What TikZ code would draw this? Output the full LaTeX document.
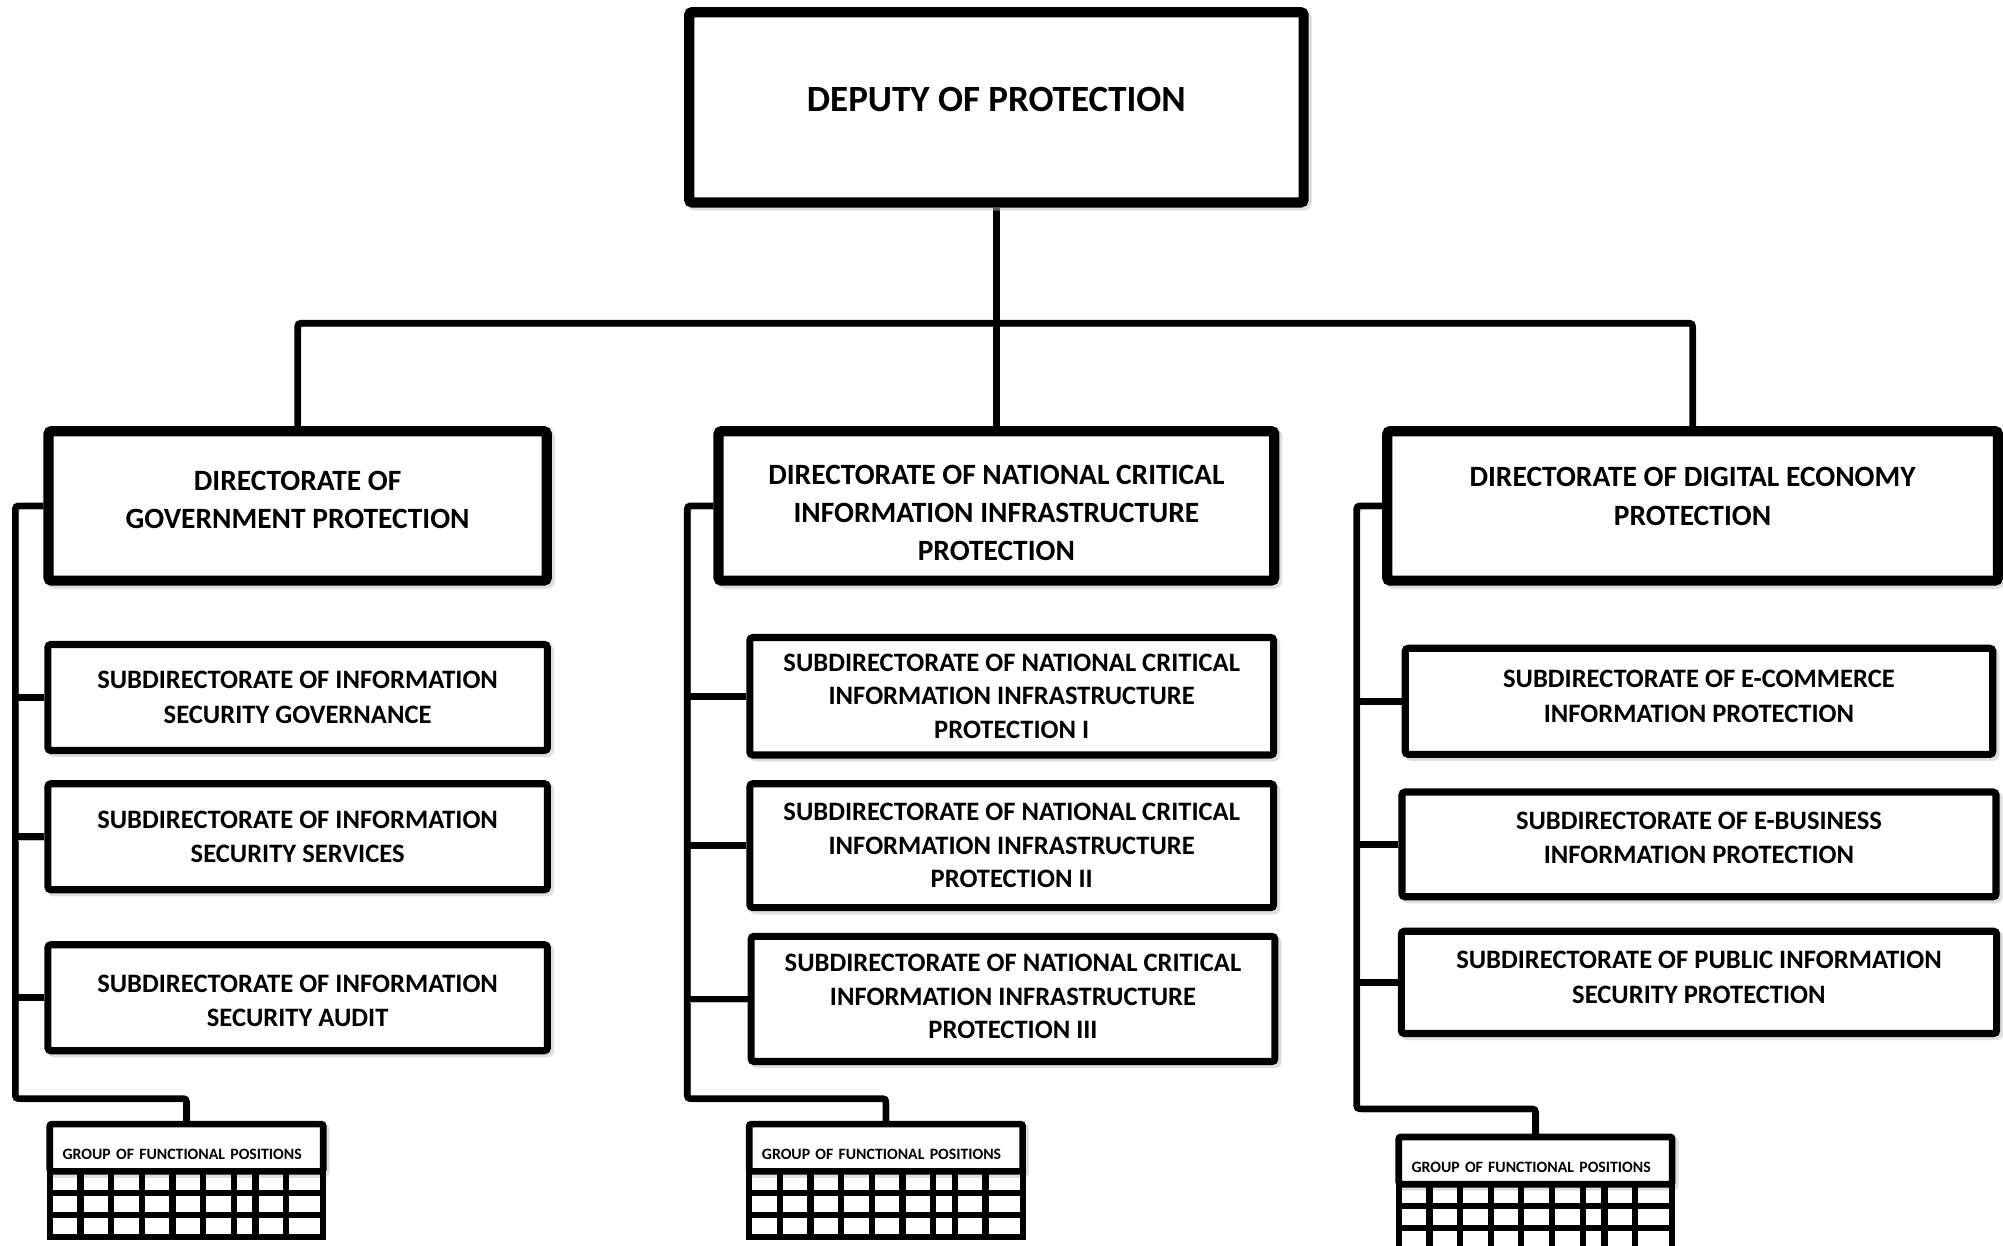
\documentclass[tikz,border=0pt]{standalone}
\usepackage{fontspec}
\setmainfont{Carlito}
\usetikzlibrary{shadows,backgrounds}

\begin{document}
\begin{tikzpicture}[x=0.125mm,y=-0.125mm,
  boxshadow/.style={drop shadow={shadow xshift=0.3mm,shadow yshift=-0.3mm,fill=black!25,draw=black!25}},
  headbox/.style={draw,fill=white,line width=1mm,rounded corners=0.3mm,align=center,boxshadow,font=\bfseries\fontsize{8.2}{10.6}\selectfont},
  subbox/.style={headbox,line width=0.7mm,font=\bfseries\fontsize{7.4}{9.6}\selectfont},
  grpbox/.style={draw,fill=white,line width=0.65mm,outer sep=0pt,rounded corners=0.2mm,boxshadow,font=\bfseries\fontsize{4.4}{5}\selectfont,text width=24.25mm,inner xsep=1.25mm,align=left,minimum height=4.625mm,text height=6.4pt},
  wire/.style={line width=0.65mm,rounded corners=0.3mm,preaction={draw=black!25,transform canvas={shift={(0.3mm,-0.3mm)}}}},
  cell/.style={line width=0.6mm}]
\useasboundingbox (0,0) rectangle (1568,975); % page

% deputy
\node[headbox,minimum width=60.125mm,minimum height=18.625mm,font=\bfseries\fontsize{10.3}{12}\selectfont,text depth=4.3pt] (deputy) at (780,84) {DEPUTY OF PROTECTION};
\coordinate (bus) at (780,253); % bus

% directorates
\node[headbox,minimum width=48.75mm,minimum height=14.625mm,text depth=3.6pt] (dirGov) at (233,396) {DIRECTORATE OF\\GOVERNMENT PROTECTION};
\node[headbox,minimum width=54.375mm,minimum height=14.625mm,text height=30.5pt,text depth=0pt] (dirCrit) at (780,396) {DIRECTORATE OF NATIONAL CRITICAL\\INFORMATION INFRASTRUCTURE\\PROTECTION};
\node[headbox,minimum width=59.75mm,minimum height=14.625mm,text depth=5.3pt] (dirEco) at (1325,396) {DIRECTORATE OF DIGITAL ECONOMY\\PROTECTION};

% subdirectorates, government
\node[subbox,minimum width=48.875mm,minimum height=10.375mm] (subGov1) at (233,546) {SUBDIRECTORATE OF INFORMATION\\SECURITY GOVERNANCE};
\node[subbox,minimum width=48.875mm,minimum height=10.375mm] (subGov2) at (233,655) {SUBDIRECTORATE OF INFORMATION\\SECURITY SERVICES};
\node[subbox,minimum width=48.875mm,minimum height=10.375mm,text height=16.2pt,text depth=0pt] (subGov3) at (233,781) {SUBDIRECTORATE OF INFORMATION\\SECURITY AUDIT};

% subdirectorates, critical infrastructure
\node[subbox,minimum width=51.25mm,minimum height=11.5mm,font=\bfseries\fontsize{7.4}{9.3}\selectfont] (subCrit1) at (792,545) {SUBDIRECTORATE OF NATIONAL CRITICAL\\INFORMATION INFRASTRUCTURE\\PROTECTION I};
\node[subbox,minimum width=51.25mm,minimum height=12.125mm,font=\bfseries\fontsize{7.4}{9.3}\selectfont] (subCrit2) at (792,662) {SUBDIRECTORATE OF NATIONAL CRITICAL\\INFORMATION INFRASTRUCTURE\\PROTECTION II};
\node[subbox,minimum width=51.25mm,minimum height=12.25mm,font=\bfseries\fontsize{7.4}{9.3}\selectfont,text depth=1.4pt] (subCrit3) at (793,782) {SUBDIRECTORATE OF NATIONAL CRITICAL\\INFORMATION INFRASTRUCTURE\\PROTECTION III};

% subdirectorates, digital economy
\node[subbox,minimum width=57.5mm,minimum height=10.375mm,text depth=2.85pt] (subEco1) at (1330,549) {SUBDIRECTORATE OF E-COMMERCE\\INFORMATION PROTECTION};
\node[subbox,minimum width=58.125mm,minimum height=10.25mm,text depth=3.6pt] (subEco2) at (1330,661) {SUBDIRECTORATE OF E-BUSINESS\\INFORMATION PROTECTION};
\node[subbox,minimum width=58.25mm,minimum height=10mm,text depth=2.85pt] (subEco3) at (1330,769) {SUBDIRECTORATE OF PUBLIC INFORMATION\\SECURITY PROTECTION};

% groups of functional positions
\node[grpbox] (grpGov) at (146,898.5) {GROUP OF FUNCTIONAL POSITIONS};
\node[grpbox] (grpCrit) at (693.5,898.5) {GROUP OF FUNCTIONAL POSITIONS};
\node[grpbox] (grpEco) at (1202,908.5) {GROUP OF FUNCTIONAL POSITIONS};
\foreach \g in {grpGov,grpCrit,grpEco}{
  \draw[cell] (\g.south west) rectangle ++(214,51); % grid
  \foreach \c in {24,48,72,96,120,144,161,185} \draw[cell] (\g.south west) ++(\c,0) -- ++(0,51);
  \foreach \r in {17,34} \draw[cell] (\g.south west) ++(0,\r) -- ++(214,0);
}

% connectors
\begin{scope}[on background layer]
\draw[wire] (deputy.south) -- (bus);
\draw[wire] (dirGov.north) |- (bus) -| (dirEco.north);
\draw[wire] (bus) -- (dirCrit.north);
\coordinate (kinkGov) at (12,860);
\coordinate (kinkCrit) at (538,860);
\coordinate (kinkEco) at (1062,868);
\draw[wire] (dirGov.west) -| (kinkGov) -| (grpGov.north);
\draw[wire] (dirCrit.west) -| (kinkCrit) -| (grpCrit.north);
\draw[wire] (dirEco.west) -| (kinkEco) -| (grpEco.north);
\foreach \s in {subGov1,subGov2,subGov3} \draw[wire] (\s.west) -- (\s.west -| kinkGov);
\foreach \s in {subCrit1,subCrit2,subCrit3} \draw[wire] (\s.west) -- (\s.west -| kinkCrit);
\foreach \s in {subEco1,subEco2,subEco3} \draw[wire] (\s.west) -- (\s.west -| kinkEco);
\end{scope}

\end{tikzpicture}
\end{document}
